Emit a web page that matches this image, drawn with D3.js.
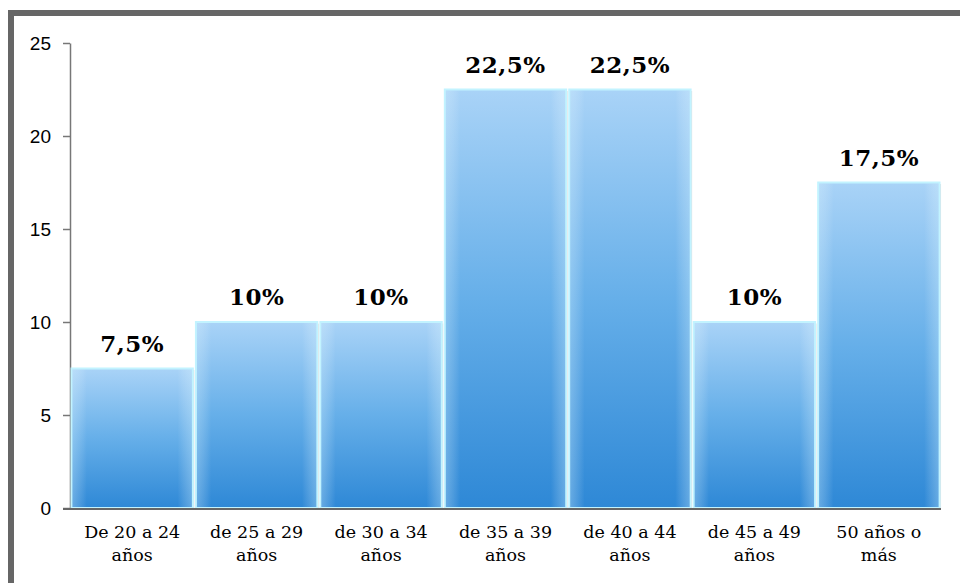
<!DOCTYPE html>
<html>
<head>
<meta charset="utf-8">
<script src="https://cdn.jsdelivr.net/npm/d3@7"></script>
<style>
  body { margin: 0; background: #fff; }
  svg { display: block; }
</style>
</head>
<body>
<svg id="chart"></svg>
<script>
// data
const categories = [["De 20 a 24", "años"], ["de 25 a 29", "años"], ["de 30 a 34", "años"],
  ["de 35 a 39", "años"], ["de 40 a 44", "años"], ["de 45 a 49", "años"], ["50 años o", "más"]];
const values = [7.5, 10, 10, 22.5, 22.5, 10, 17.5];
const valueLabels = ["7,5%", "10%", "10%", "22,5%", "22,5%", "10%", "17,5%"];
const yTicks = [0, 5, 10, 15, 20, 25];

let width = 960, height = 583;
let plotLeft = 70, plotRight = 941, plotTop = 43, plotBottom = 508;

let svg = d3.select('#chart')
  .attr('width', width)
  .attr('height', height);

// outer frame
svg.append('rect')
  .attr('x', 11).attr('y', 13)
  .attr('width', 960).attr('height', 600)
  .attr('fill', 'none')
  .style('stroke', '#666')
  .style('stroke-width', 6);

let defs = svg.append('defs');
let grad = defs.append('linearGradient')
  .attr('id', 'barGrad')
  .attr('x1', 0).attr('y1', 0).attr('x2', 0).attr('y2', 1);
grad.append('stop').attr('offset', '0%').attr('stop-color', '#a9d3f7');
grad.append('stop').attr('offset', '50%').attr('stop-color', '#66afe9');
grad.append('stop').attr('offset', '100%').attr('stop-color', '#2e88d6');

// soft light edges along the sides
let side = defs.append('linearGradient')
  .attr('id', 'sideGlow')
  .attr('x1', 0).attr('y1', 0).attr('x2', 1).attr('y2', 0);
side.append('stop').attr('offset', '0%').attr('stop-color', '#e0f6ff').attr('stop-opacity', 0.3);
side.append('stop').attr('offset', '12%').attr('stop-color', '#ffffff').attr('stop-opacity', 0);
side.append('stop').attr('offset', '88%').attr('stop-color', '#ffffff').attr('stop-opacity', 0);
side.append('stop').attr('offset', '100%').attr('stop-color', '#e0f6ff').attr('stop-opacity', 0.3);

let xScale = d3.scaleBand()
  .domain(d3.range(values.length))
  .range([plotLeft, plotRight])
  .paddingInner(0.025)
  .paddingOuter(0.012);

let yScale = d3.scaleLinear()
  .domain([0, 25])
  .range([plotBottom, plotTop]);

// y axis
let yAxis = svg.append('g')
  .attr('transform', `translate(${plotLeft},0)`)
  .call(d3.axisLeft(yScale).tickValues(yTicks).tickSize(7).tickSizeOuter(0));
yAxis.select('.domain').style('stroke', '#777').style('stroke-width', 1.5);
yAxis.selectAll('.tick line').style('stroke', '#777').style('stroke-width', 1.5);
yAxis.selectAll('.tick text')
  .attr('x', -19)
  .style('font-family', 'Liberation Sans, Arial, sans-serif')
  .style('font-size', '19px')
  .style('fill', '#000');

// bars
let bars = svg.append('g');
bars.selectAll('rect.shadow')
  .data(values)
  .enter().append('rect')
  .attr('class', 'shadow')
  .attr('x', (d, i) => xScale(i) + 1.5)
  .attr('y', d => yScale(d) + 1.5)
  .attr('width', xScale.bandwidth())
  .attr('height', d => plotBottom - yScale(d))
  .attr('fill', '#aaa')
  .attr('opacity', 0.35);

bars.selectAll('rect.bar')
  .data(values)
  .enter().append('rect')
  .attr('class', 'bar')
  .attr('x', (d, i) => xScale(i))
  .attr('y', d => yScale(d))
  .attr('width', xScale.bandwidth())
  .attr('height', d => plotBottom - yScale(d))
  .attr('fill', 'url(#barGrad)')
  .style('stroke', '#c2f3ff')
  .style('stroke-width', 2);

bars.selectAll('rect.glow')
  .data(values)
  .enter().append('rect')
  .attr('class', 'glow')
  .attr('x', (d, i) => xScale(i) + 1)
  .attr('y', d => yScale(d) + 1)
  .attr('width', xScale.bandwidth() - 2)
  .attr('height', d => plotBottom - yScale(d) - 2)
  .attr('fill', 'url(#sideGlow)');

// x axis line
svg.append('line')
  .attr('x1', plotLeft - 7).attr('x2', plotRight)
  .attr('y1', plotBottom + 1).attr('y2', plotBottom + 1)
  .style('stroke', '#666')
  .style('stroke-width', 2);

// value labels
svg.append('g').selectAll('text')
  .data(values)
  .enter().append('text')
  .attr('x', (d, i) => xScale(i) + xScale.bandwidth() / 2)
  .attr('y', d => yScale(d) - 17)
  .attr('text-anchor', 'middle')
  .style('font-family', 'DejaVu Serif, serif')
  .style('font-weight', 'bold')
  .style('font-size', '23px')
  .style('letter-spacing', '0.5px')
  .style('fill', '#000')
  .text((d, i) => valueLabels[i]);

// category labels
let catLabels = svg.append('g').selectAll('text')
  .data(categories)
  .enter().append('text')
  .attr('x', (d, i) => xScale(i) + xScale.bandwidth() / 2)
  .attr('y', 538)
  .attr('text-anchor', 'middle')
  .style('font-family', 'DejaVu Serif, serif')
  .style('font-size', '17.5px')
  .style('fill', '#000');
catLabels.append('tspan')
  .attr('x', (d, i) => xScale(i) + xScale.bandwidth() / 2)
  .text(d => d[0]);
catLabels.append('tspan')
  .attr('x', (d, i) => xScale(i) + xScale.bandwidth() / 2)
  .attr('dy', 23)
  .text(d => d[1]);
</script>
</body>
</html>
